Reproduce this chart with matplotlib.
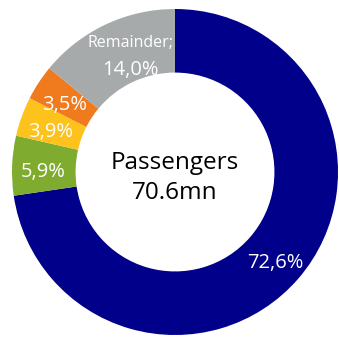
import numpy as np
import matplotlib.pyplot as plt

plt.rcParams['font.family'] = ['Open Sans', 'DejaVu Sans']

# share of passengers, clockwise from top
shares = [72.6, 5.9, 3.9, 3.5, 14.0]
labels = ['72,6%', '5,9%', '3,9%', '3,5%', 'Remainder;\n14,0%']
colors = ['#00008b', '#7fab2f', '#fdc21c', '#f07a1e', '#a7aaab']
center_text = 'Passengers\n70.6mn'

fig = plt.figure(figsize=(3.39, 3.38), dpi=100)
ax = fig.add_axes([0, 0, 1, 1])

wedges, _ = ax.pie(shares, colors=colors, startangle=90, counterclock=False,
                   radius=1.0, wedgeprops=dict(width=0.39, linewidth=0))

for w, lab in zip(wedges, labels):
    mid = np.deg2rad((w.theta1 + w.theta2) / 2)
    r = 0.81
    x, y = r * np.cos(mid), r * np.sin(mid) - 0.03
    if lab.startswith('Remainder'):
        ax.text(x + 0.07, y + 0.09, 'Remainder;', ha='center', va='center',
                color='white', fontsize=11.5)
        ax.text(x + 0.07, y - 0.075, '14,0%', ha='center', va='center',
                color='white', fontsize=14.5)
    else:
        ax.text(x, y, lab, ha='center', va='center', color='white', fontsize=14.5)

ax.text(0, -0.035, center_text, ha='center', va='center', fontsize=17.5,
        color='black', linespacing=1.35)

ax.set_xlim(-175 / 163, 164 / 163)
ax.set_ylim(-166 / 163, 172 / 163)
ax.set_aspect('auto')
ax.axis('off')

fig.savefig('out.png', dpi=100)
